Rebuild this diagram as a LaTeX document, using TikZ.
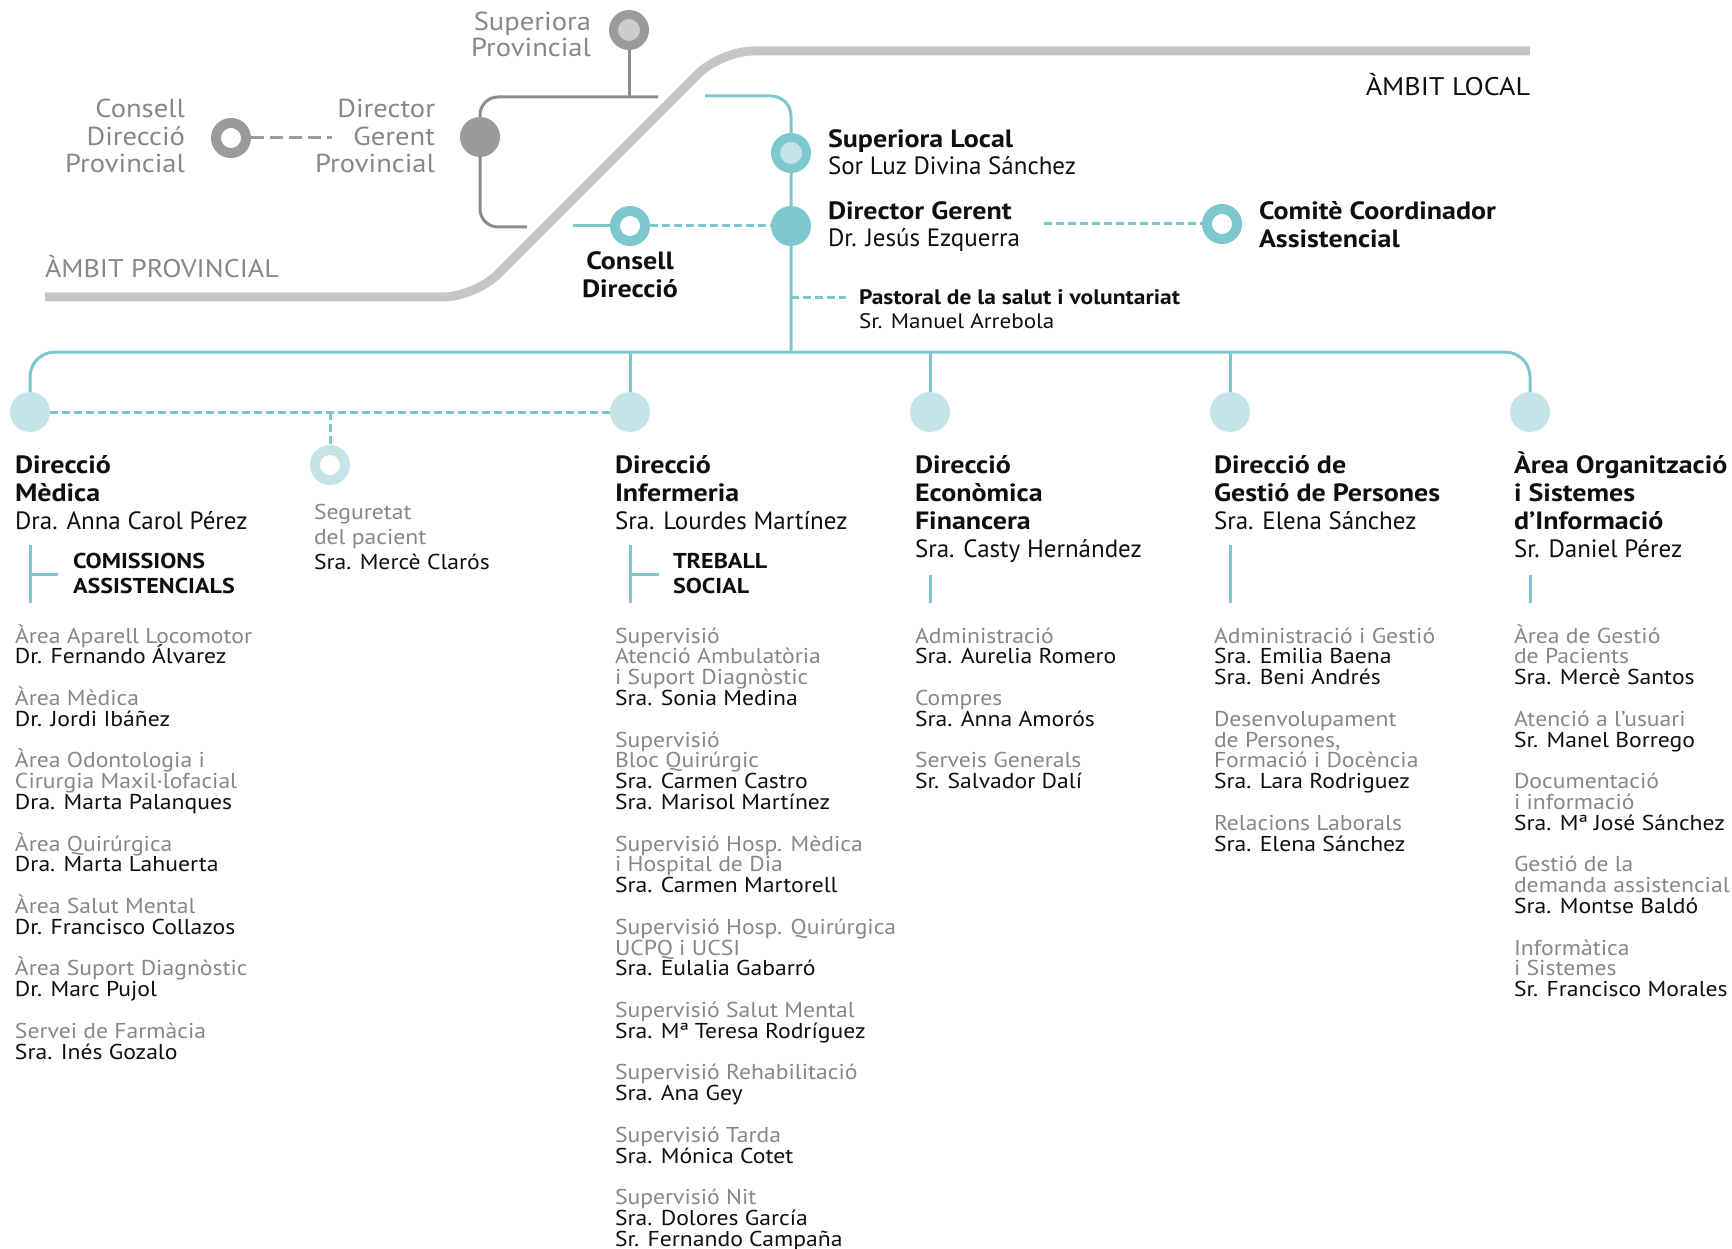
\documentclass[tikz,border=0pt]{standalone}
\usepackage{fontspec}
\setmainfont{PT Sans}[BoldFeatures={FakeStretch=1.12}]
\newfontfamily\widefont{PT Sans}[FakeStretch=1.1, BoldFeatures={FakeStretch=1.12}]
\pgfdeclarelayer{bg}
\pgfsetlayers{bg,main}
\definecolor{teal1}{RGB}{125,200,206}
\definecolor{teallt}{RGB}{196,228,231}
\definecolor{greyring}{RGB}{155,155,155}
\definecolor{greylt}{RGB}{205,205,205}
\definecolor{bandc}{RGB}{198,198,198}
\definecolor{txtgrey}{RGB}{135,135,135}
\definecolor{txtblack}{RGB}{15,15,15}
\definecolor{greyline}{RGB}{140,140,140}
\newcommand\gry{\color{txtgrey}}
\newcommand\Lblock[2]{\vtop{\baselineskip=#1\relax\lineskiplimit=-\maxdimen\lineskip=0pt\halign{##\hfil\cr#2\crcr}}}
\newcommand\Rblock[2]{\vtop{\baselineskip=#1\relax\lineskiplimit=-\maxdimen\lineskip=0pt\halign{\hfil##\cr#2\crcr}}}
\newcommand\Cblock[2]{\vtop{\baselineskip=#1\relax\lineskiplimit=-\maxdimen\lineskip=0pt\halign{\hfil##\hfil\cr#2\crcr}}}
\tikzset{
  txt/.style={inner sep=0pt, outer sep=0pt, text=txtblack},
  ttl/.style={txt, font=\fontsize{25}{28}\selectfont},
  toplbl/.style={txt, text=txtgrey, font=\widefont\fontsize{26}{28}\selectfont},
  lst/.style={txt, font=\widefont\fontsize{21.5}{20.8}\selectfont},
  tealline/.style={draw=teal1, line width=3pt},
  tealdash/.style={draw=teal1, line width=3pt, dash pattern=on 8pt off 4pt},
  greyln/.style={draw=greyline, line width=3pt},
  greydash/.style={draw=greyring, line width=3pt, dash pattern=on 13pt off 6pt},
  bandline/.style={draw=bandc, line width=9pt},
  ringT/.style={circle, draw=teal1, line width=10pt, fill=white, minimum size=30pt, inner sep=0pt},
  ringTL/.style={circle, draw=teal1, line width=9pt, fill=teallt, minimum size=31pt, inner sep=0pt},
  ringL/.style={circle, draw=teallt, line width=10pt, fill=white, minimum size=30pt, inner sep=0pt},
  ringG/.style={circle, draw=greyring, line width=10pt, fill=white, minimum size=30pt, inner sep=0pt},
  ringGL/.style={circle, draw=greyring, line width=9pt, fill=greylt, minimum size=31pt, inner sep=0pt},
  dotT/.style={circle, fill=teal1, minimum size=40pt, inner sep=0pt},
  dotL/.style={circle, fill=teallt, minimum size=40pt, inner sep=0pt},
  dotG/.style={circle, fill=greyring, minimum size=40pt, inner sep=0pt},
}
\begin{document}
\begin{tikzpicture}[x=1pt,y=-1pt]
\useasboundingbox (0,0) rectangle (1732,1249);
% ---------- markers ----------
\node[ringGL] (sp)  at (629,30) {};
\node[dotG]   (dgp) at (480,137) {};
\node[ringG]  (cdp) at (231,138) {};
\node[ringTL] (sl)  at (791,153) {};
\node[dotT]   (dg)  at (791,226) {};
\node[ringT]  (cd)  at (630,226) {};
\node[ringT]  (cc)  at (1222,224) {};
\node[dotL]   (dm)  at (30,412) {};
\node[ringL]  (sg)  at (330,465) {};
\node[dotL]   (ie)  at (630,412) {};
\node[dotL]   (ef)  at (930,412) {};
\node[dotL]   (gp)  at (1230,412) {};
\node[dotL]   (ao)  at (1530,412) {};
% ---------- coordinates ----------
\coordinate (b1) at (45,297);
\coordinate (b2) at (475,297);
\coordinate (b3) at (721,51);
\coordinate (b4) at (1530,51);
\coordinate (gtopR) at (658,97);
\coordinate (gtopL) at (480,97);
\coordinate (gbotL) at (480,227);
\coordinate (gbotR) at (527,227);
\coordinate (dgpdash) at (332,138);
\coordinate (tstart) at (705,96);
\coordinate (tcorner) at (791,96);
\coordinate (hub) at (791,352);
\coordinate (cdstart) at (573,226);
\coordinate (dgd) at (1044,224);
\coordinate (pst) at (791,298);
\coordinate (pend) at (846,298);
\coordinate (busL) at (30,352);
\coordinate (busR) at (1530,352);
\coordinate (sgtop) at (330,412);
\coordinate (br1a) at (30,545);
\coordinate (br1b) at (30,603);
\coordinate (br1m) at (30,574);
\coordinate (br1t) at (58,574);
\coordinate (br2a) at (630,545);
\coordinate (br2b) at (630,603);
\coordinate (br2m) at (630,574);
\coordinate (br2t) at (659,574);
\coordinate (br3a) at (930,575);
\coordinate (br3b) at (930,603);
\coordinate (br4a) at (1230,545);
\coordinate (br4b) at (1230,603);
\coordinate (br5a) at (1530,575);
\coordinate (br5b) at (1530,603);
% ---------- lines ----------
\begin{pgfonlayer}{bg}
\draw[bandline, rounded corners=32pt] (b1) -- (b2) -- (b3) -- (b4);
\draw[greyln, rounded corners=18pt] (gtopR) -- (gtopL) -- (gbotL) -- (gbotR);
\draw[greyln] (sp.center) -- (sp.center |- gtopR);
\draw[greydash] (cdp) -- (dgpdash);
\draw[tealline, rounded corners=20pt] (tstart) -- (tcorner) -- (hub);
\draw[tealline] (cdstart) -- (cd);
\draw[tealdash] (cd) -- (dg);
\draw[tealdash] (dgd) -- (cc);
\draw[tealdash] (pst) -- (pend);
\draw[tealline, rounded corners=25pt] (dm.center) -- (busL) -- (busR) -- (ao.center);
\draw[tealline] (ie.center) -- (ie.center |- busL);
\draw[tealline] (ef.center) -- (ef.center |- busL);
\draw[tealline] (gp.center) -- (gp.center |- busL);
\draw[tealdash] (dm) -- (ie);
\draw[tealdash] (sgtop) -- (sg);
\draw[tealline] (br1a) -- (br1b);
\draw[tealline] (br1m) -- (br1t);
\draw[tealline] (br2a) -- (br2b);
\draw[tealline] (br2m) -- (br2t);
\draw[tealline] (br3a) -- (br3b);
\draw[tealline] (br4a) -- (br4b);
\draw[tealline] (br5a) -- (br5b);
\end{pgfonlayer}
% ---------- top texts ----------
\node[toplbl, anchor=base east] (spT) at (591,31) {\Rblock{26pt}{Superiora\cr Provincial}};
\node[toplbl, anchor=base east] (dgpT) at (435,118) {\Rblock{27.5pt}{Director\cr Gerent\cr Provincial}};
\node[toplbl, anchor=base east] (cdpT) at (185,118) {\Rblock{27.5pt}{Consell\cr Direcció\cr Provincial}};
\node[toplbl, font=\widefont\fontsize{25.5}{28}\selectfont, anchor=base west] (apT) at (45,278) {ÀMBIT PROVINCIAL};
\node[toplbl, text=txtblack, font=\widefont\fontsize{25.5}{28}\selectfont, anchor=base east] (alT) at (1530,96) {ÀMBIT LOCAL};
\node[ttl, anchor=base west] (slT) at (828,148) {\Lblock{27pt}{\bfseries Superiora Local\cr Sor Luz Divina Sánchez}};
\node[ttl, anchor=base west] (dgT) at (828,220) {\Lblock{27pt}{\bfseries Director Gerent\cr Dr. Jesús Ezquerra}};
\node[ttl, anchor=base west] (ccT) at (1259,220) {\Lblock{28pt}{\bfseries Comitè Coordinador\cr\bfseries Assistencial}};
\node[ttl, anchor=base] (cdT) at (630,270) {\Cblock{28pt}{\bfseries Consell\cr\bfseries Direcció}};
\node[txt, font=\widefont\fontsize{21}{24}\selectfont, anchor=base west] (pT) at (859,305) {\Lblock{24pt}{\bfseries Pastoral de la salut i voluntariat\cr Sr. Manuel Arrebola}};
% ---------- direction titles ----------
\node[ttl, anchor=base west] (dmT) at (15,473) {\Lblock{28pt}{\bfseries Direcció\cr\bfseries Mèdica\cr Dra. Anna Carol Pérez}};
\node[ttl, anchor=base west] (ieT) at (615,473) {\Lblock{28pt}{\bfseries Direcció\cr\bfseries Infermeria\cr Sra. Lourdes Martínez}};
\node[ttl, anchor=base west] (efT) at (915,473) {\Lblock{28pt}{\bfseries Direcció\cr\bfseries Econòmica\cr\bfseries Financera\cr Sra. Casty Hernández}};
\node[ttl, anchor=base west] (gpT) at (1214,473) {\Lblock{28pt}{\bfseries Direcció de\cr\bfseries Gestió de Persones\cr Sra. Elena Sánchez}};
\node[ttl, anchor=base west] (aoT) at (1514,473) {\Lblock{28pt}{\bfseries Àrea Organització\cr\bfseries i Sistemes\cr\bfseries d’Informació\cr Sr. Daniel Pérez}};
\node[lst, anchor=base west] (sgT) at (314,519) {\Lblock{25pt}{\gry Seguretat\cr\gry del pacient\cr Sra. Mercè Clarós}};
\node[txt, font=\fontsize{21.5}{25}\selectfont, anchor=base west] (comT) at (73,568) {\Lblock{25pt}{\bfseries COMISSIONS\cr\bfseries ASSISTENCIALS}};
\node[txt, font=\fontsize{21.5}{25}\selectfont, anchor=base west] (tsT) at (673,568) {\Lblock{25pt}{\bfseries TREBALL\cr\bfseries SOCIAL}};
% ---------- lists ----------
\node[lst, anchor=base west] (dmL) at (15,643) {\Lblock{20.8pt}{%
\gry Àrea Aparell Locomotor\cr Dr. Fernando Álvarez\cr\cr
\gry Àrea Mèdica\cr Dr. Jordi Ibáñez\cr\cr
\gry Àrea Odontologia i\cr\gry Cirurgia Maxil·lofacial\cr Dra. Marta Palanques\cr\cr
\gry Àrea Quirúrgica\cr Dra. Marta Lahuerta\cr\cr
\gry Àrea Salut Mental\cr Dr. Francisco Collazos\cr\cr
\gry Àrea Suport Diagnòstic\cr Dr. Marc Pujol\cr\cr
\gry Servei de Farmàcia\cr Sra. Inés Gozalo}};
\node[lst, anchor=base west] (ieL) at (615,643) {\Lblock{20.8pt}{%
\gry Supervisió\cr\gry Atenció Ambulatòria\cr\gry i Suport Diagnòstic\cr Sra. Sonia Medina\cr\cr
\gry Supervisió\cr\gry Bloc Quirúrgic\cr Sra. Carmen Castro\cr Sra. Marisol Martínez\cr\cr
\gry Supervisió Hosp. Mèdica\cr\gry i Hospital de Dia\cr Sra. Carmen Martorell\cr\cr
\gry Supervisió Hosp. Quirúrgica\cr\gry UCPQ i UCSI\cr Sra. Eulalia Gabarró\cr\cr
\gry Supervisió Salut Mental\cr Sra. Mª Teresa Rodríguez\cr\cr
\gry Supervisió Rehabilitació\cr Sra. Ana Gey\cr\cr
\gry Supervisió Tarda\cr Sra. Mónica Cotet\cr\cr
\gry Supervisió Nit\cr Sra. Dolores García\cr Sr. Fernando Campaña}};
\node[lst, anchor=base west] (efL) at (915,643) {\Lblock{20.8pt}{%
\gry Administració\cr Sra. Aurelia Romero\cr\cr
\gry Compres\cr Sra. Anna Amorós\cr\cr
\gry Serveis Generals\cr Sr. Salvador Dalí}};
\node[lst, anchor=base west] (gpL) at (1214,643) {\Lblock{20.8pt}{%
\gry Administració i Gestió\cr Sra. Emilia Baena\cr Sra. Beni Andrés\cr\cr
\gry Desenvolupament\cr\gry de Persones,\cr\gry Formació i Docència\cr Sra. Lara Rodriguez\cr\cr
\gry Relacions Laborals\cr Sra. Elena Sánchez}};
\node[lst, anchor=base west] (aoL) at (1514,643) {\Lblock{20.8pt}{%
\gry Àrea de Gestió\cr\gry de Pacients\cr Sra. Mercè Santos\cr\cr
\gry Atenció a l’usuari\cr Sr. Manel Borrego\cr\cr
\gry Documentació\cr\gry i informació\cr Sra. Mª José Sánchez\cr\cr
\gry Gestió de la\cr\gry demanda assistencial\cr Sra. Montse Baldó\cr\cr
\gry Informàtica\cr\gry i Sistemes\cr Sr. Francisco Morales}};
\end{tikzpicture}
\end{document}
